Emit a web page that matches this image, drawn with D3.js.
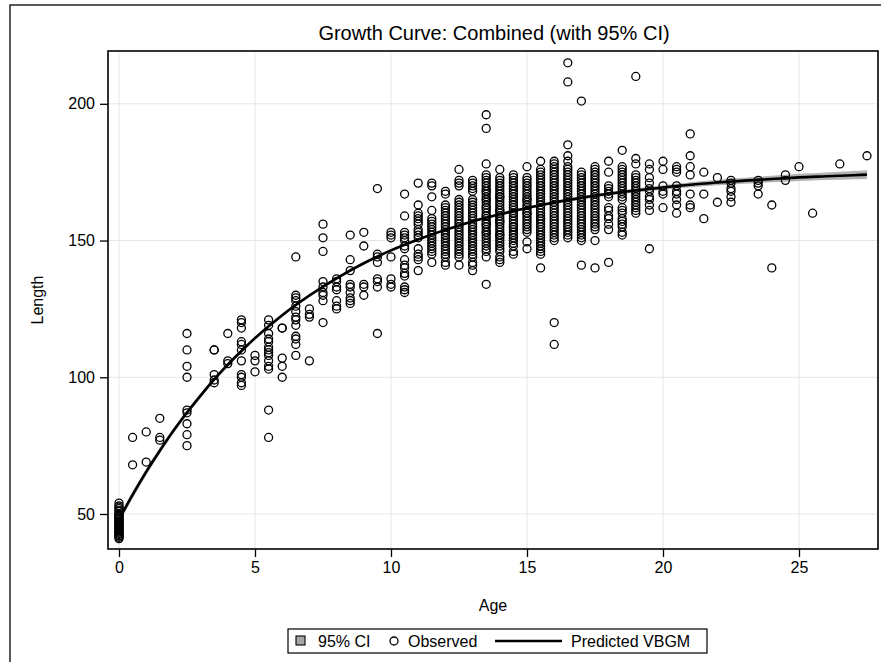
<!DOCTYPE html>
<html>
<head>
<meta charset="utf-8">
<script src="https://cdn.jsdelivr.net/npm/d3@7"></script>
<style>
  html, body { margin: 0; padding: 0; background: #fff; }
  svg { display: block; }
  text { font-family: "Liberation Sans", Arial, sans-serif; fill: #000; }
</style>
</head>
<body>
<svg id="chart" width="881" height="662"></svg>
<script>
// ---------------- DATA ----------------
const titleText = "Growth Curve: Combined (with 95% CI)";
const xLabel = "Age";
const yLabel = "Length";
const xTicks = [0, 5, 10, 15, 20, 25];
const yTicks = [50, 100, 150, 200];
const legendLabels = ["95% CI", "Observed", "Predicted VBGM"];

// Observed lengths, grouped by age column
const obsAges = [0, 0.5, 1, 1.5, 2.5, 3.5, 4, 4.5, 5, 5.5, 6, 6.5, 7, 7.5, 8, 8.5, 9, 9.5, 10, 10.5,
  11, 11.5, 12, 12.5, 13, 13.5, 14, 14.5, 15, 15.5, 16, 16.5, 17, 17.5, 18, 18.5, 19, 19.5, 20, 20.5,
  21, 21.5, 22, 22.5, 23.5, 24, 24.5, 25, 25.5, 26.5, 27.5];
const obsLengths = [
  [41, 41.5, 42, 42, 42.5, 43, 43, 43.5, 44, 44, 44.5, 45, 45, 45.5, 46, 46, 46.5, 47, 47, 47.5, 48, 48, 48.5, 49, 49, 49.5, 50, 50, 51, 51, 52, 52.5, 53, 54],
  [68, 78],
  [69, 80],
  [77, 78, 85],
  [75, 79, 83, 87, 88, 100, 104, 110, 116],
  [98, 99, 101, 110, 110],
  [105, 106, 116],
  [97, 98, 100, 101, 106, 110, 112, 113, 118, 120, 121],
  [102, 106, 108],
  [78, 88, 103, 104, 106, 108, 109, 110, 111, 113, 114, 116, 119, 121],
  [100, 104, 107, 118, 118],
  [108, 112, 114, 115, 119, 121, 122, 124, 126, 128, 129, 130, 144],
  [106, 122, 123, 125],
  [120, 128, 130, 131, 133, 135, 146, 151, 156],
  [125, 126, 128, 132, 133, 135, 136],
  [127, 128, 129, 131, 133, 134, 139, 143, 152],
  [130, 133, 134, 148, 153],
  [116, 133, 135, 136, 142, 144, 145, 169],
  [133, 134, 136, 144, 151, 152, 153],
  [131, 132, 133, 137, 138, 140, 141, 143, 147, 148, 150, 151, 152, 153, 159, 167],
  [139, 143, 144, 145, 147, 151, 152, 153, 154, 156, 157, 158, 159, 160, 163, 171],
  [142, 145, 146, 147, 148, 149, 150, 151, 152, 153, 154, 155, 156, 157, 158, 161, 166, 170, 171],
  [141, 142, 144, 145, 146, 147, 148, 149, 150, 151, 152, 153, 154, 155, 156, 157, 158, 159, 160, 161, 162, 163, 167, 168],
  [141, 144, 145, 146, 147, 148, 149, 150, 151, 152, 153, 154, 155, 156, 157, 158, 159, 160, 161, 162, 163, 164, 165, 170, 171, 172, 176],
  [139, 141, 142, 144, 145, 146, 147, 148, 149, 150, 151, 152, 153, 154, 155, 156, 157, 158, 159, 160, 161, 162, 163, 164, 165, 168, 169, 170, 171, 172],
  [134, 144, 146, 147, 148, 149, 150, 151, 152, 153, 153, 154, 155, 156, 156, 157, 158, 159, 159, 160, 161, 162, 162, 163, 164, 165, 165, 166, 167, 168, 168, 169, 170, 171, 172, 173, 174, 178, 191, 196],
  [142, 143, 144, 146, 147, 148, 149, 150, 151, 152, 152, 153, 154, 155, 156, 157, 157, 158, 159, 160, 161, 161, 162, 163, 164, 165, 166, 166, 167, 168, 169, 170, 171, 172, 173, 176],
  [145, 146, 148, 149, 150, 151, 152, 153, 154, 155, 155, 156, 157, 158, 159, 160, 160, 161, 162, 163, 164, 165, 166, 167, 168, 169, 170, 171, 172, 173, 174],
  [147, 149.5, 153, 154, 155, 156, 157, 158, 159, 160, 160, 161, 162, 163, 164, 165, 165, 166, 167, 168, 169, 170, 171, 172, 173, 177],
  [140, 145, 146, 147, 148, 149, 150, 151, 152, 153, 154, 155, 156, 157, 158, 158, 159, 160, 161, 162, 163, 164, 165, 166, 167, 168, 169, 170, 171, 172, 173, 174, 175, 176, 179],
  [112, 120, 150, 151, 152, 153, 154, 155, 156, 157, 158, 159, 160, 161, 162, 163, 164, 165, 166, 167, 168, 169, 170, 171, 172, 173, 174, 175, 176, 177, 178, 179],
  [151, 152, 153, 154, 155, 156, 157, 158, 159, 160, 161, 162, 163, 164, 165, 166, 167, 168, 169, 170, 171, 172, 173, 174, 175, 176, 177, 179, 181, 185, 208, 215],
  [141, 150, 151, 152, 153, 154, 155, 156, 157, 158, 159, 160, 161, 162, 163, 164, 165, 166, 167, 168, 169, 170, 171, 172, 173, 174, 175, 201],
  [140, 150, 154, 155, 156, 157, 158, 159, 160, 161, 162, 163, 164, 165, 166, 167, 168, 169, 170, 171, 172, 173, 174, 175, 176, 177],
  [142, 154, 156, 158, 159, 161, 162, 166, 167, 168, 169, 170, 175, 179],
  [152, 153, 155, 156, 157, 158, 160, 161, 162, 165, 166, 167, 168, 169, 170, 171, 172, 173, 174, 175, 176, 177, 183],
  [160, 161, 162, 163, 164, 165, 166, 167, 168, 169, 170, 171, 172, 173, 174, 178, 180, 210],
  [147, 161, 163, 165, 166, 168, 169, 171, 173, 176, 178],
  [162, 167, 168, 170, 176, 179],
  [160, 163, 165, 167, 168, 170, 175, 176, 177],
  [162, 163, 167, 174, 177, 181, 189],
  [158, 167, 175],
  [164, 173],
  [164, 166, 168, 169, 171, 172],
  [167, 170, 171, 172],
  [140, 163],
  [172, 174],
  [177],
  [160],
  [178],
  [181]
];

// Predicted VBGM curve and 95% CI
const predAges = [0, 0.5, 1, 1.5, 2, 2.5, 3, 3.5, 4, 4.5, 5, 6, 7, 8, 9, 10, 11, 12, 13, 14, 15, 16, 17, 18, 19, 20, 21, 22, 23, 24, 25, 26, 27, 27.5];
const predLength = [48.0, 57.0, 65.4, 73.1, 80.4, 87.1, 93.3, 99.2, 104.6, 109.6, 114.3, 122.7, 129.9, 136.2, 141.7, 146.4, 150.4, 153.9, 157.0, 159.6, 161.9, 163.9, 165.6, 167.1, 168.3, 169.4, 170.4, 171.2, 171.9, 172.5, 173.1, 173.5, 173.9, 174.1];
const ciLower = [46.6, 55.7, 64.2, 72.0, 79.4, 86.15, 92.4, 98.35, 103.8, 108.85, 113.6, 122.05, 129.3, 135.65, 141.2, 145.9, 149.95, 153.45, 156.55, 159.15, 161.45, 163.4, 165.05, 166.5, 167.6, 168.6, 169.5, 170.2, 170.8, 171.3, 171.8, 172.1, 172.4, 172.5];
const ciUpper = [49.4, 58.3, 66.6, 74.2, 81.4, 88.05, 94.2, 100.05, 105.4, 110.35, 115.0, 123.35, 130.5, 136.75, 142.2, 146.9, 150.85, 154.35, 157.45, 160.05, 162.35, 164.4, 166.15, 167.7, 169.0, 170.2, 171.3, 172.2, 173.0, 173.7, 174.4, 174.9, 175.4, 175.7];

// ---------------- LAYOUT ----------------
const svg = d3.select("#chart");
const plot = { left: 108, right: 878, top: 51, bottom: 549 };

const x = d3.scaleLinear().domain([0, 25]).range([119, 799]);
const y = d3.scaleLinear().domain([50, 200]).range([514, 103.8]);

// outer frame (extends past the picture edge)
svg.append("rect").attr("x", 10).attr("y", 5).attr("width", 900).attr("height", 700)
  .attr("fill", "none").attr("stroke", "#000").attr("stroke-width", 1.3);

// title
svg.append("text").attr("x", 494).attr("y", 40).attr("text-anchor", "middle")
  .attr("font-size", 20).text(titleText);

// clip
svg.append("defs").append("clipPath").attr("id", "clip").append("rect")
  .attr("x", plot.left).attr("y", plot.top).attr("width", plot.right - plot.left).attr("height", plot.bottom - plot.top);

// grid
const grid = svg.append("g");
grid.selectAll(".gx").data(xTicks).join("line")
  .attr("x1", d => x(d)).attr("x2", d => x(d)).attr("y1", plot.top).attr("y2", plot.bottom)
  .attr("stroke", "#e6e6e6").attr("stroke-width", 1);
grid.selectAll(".gy").data(yTicks).join("line")
  .attr("y1", d => y(d)).attr("y2", d => y(d)).attr("x1", plot.left).attr("x2", plot.right)
  .attr("stroke", "#e6e6e6").attr("stroke-width", 1);

const g = svg.append("g").attr("clip-path", "url(#clip)");

// CI band
const predData = predAges.map((a, i) => ({ a, p: predLength[i], lo: ciLower[i], hi: ciUpper[i] }));
g.append("path").datum(predData)
  .attr("d", d3.area().x(d => x(d.a)).y0(d => y(d.lo)).y1(d => y(d.hi)).curve(d3.curveMonotoneX))
  .attr("fill", "#a6a6a6").attr("opacity", 0.85);

// observed points
const obs = [];
obsAges.forEach((a, i) => obsLengths[i].forEach(v => obs.push({ a, v })));
g.selectAll("circle.obs").data(obs).join("circle")
  .attr("class", "obs")
  .attr("cx", d => x(d.a)).attr("cy", d => y(d.v)).attr("r", 4)
  .attr("fill", "none").attr("stroke", "#000").attr("stroke-width", 1.3);

// predicted line
g.append("path").datum(predData)
  .attr("d", d3.line().x(d => x(d.a)).y(d => y(d.p)).curve(d3.curveMonotoneX))
  .attr("fill", "none").attr("stroke", "#000").attr("stroke-width", 2.6);

// plot frame
svg.append("rect").attr("x", plot.left).attr("y", plot.top)
  .attr("width", plot.right - plot.left).attr("height", plot.bottom - plot.top)
  .attr("fill", "none").attr("stroke", "#000").attr("stroke-width", 1.6);

// axes
const xAxis = svg.append("g").attr("transform", `translate(0,${plot.bottom})`)
  .call(d3.axisBottom(x).tickValues(xTicks).tickSize(8).tickPadding(5).tickFormat(d3.format("d")));
const yAxis = svg.append("g").attr("transform", `translate(${plot.left},0)`)
  .call(d3.axisLeft(y).tickValues(yTicks).tickSize(8).tickPadding(5).tickFormat(d3.format("d")));
[xAxis, yAxis].forEach(ax => {
  ax.select(".domain").remove();
  ax.selectAll(".tick line").attr("stroke", "#000").attr("stroke-width", 1.3);
  ax.selectAll(".tick text").attr("font-size", 16).attr("font-family", "Liberation Sans, Arial, sans-serif").attr("fill", "#000");
});

// axis labels
svg.append("text").attr("x", (plot.left + plot.right) / 2).attr("y", 611)
  .attr("text-anchor", "middle").attr("font-size", 16).text(xLabel);
svg.append("text").attr("transform", `translate(43,${(plot.top + plot.bottom) / 2}) rotate(-90)`)
  .attr("text-anchor", "middle").attr("font-size", 16).text(yLabel);

// legend
const lg = svg.append("g");
lg.append("rect").attr("x", 288).attr("y", 629).attr("width", 419).attr("height", 24)
  .attr("fill", "#fff").attr("stroke", "#000").attr("stroke-width", 1.2);
lg.append("rect").attr("x", 296).attr("y", 636).attr("width", 9).attr("height", 9)
  .attr("fill", "#a6a6a6").attr("stroke", "#000").attr("stroke-width", 1.1);
lg.append("text").attr("x", 318).attr("y", 647).attr("font-size", 16).text(legendLabels[0]);
lg.append("circle").attr("cx", 394).attr("cy", 641).attr("r", 4)
  .attr("fill", "none").attr("stroke", "#000").attr("stroke-width", 1.3);
lg.append("text").attr("x", 408).attr("y", 647).attr("font-size", 16).text(legendLabels[1]);
lg.append("line").attr("x1", 495).attr("x2", 562).attr("y1", 641).attr("y2", 641)
  .attr("stroke", "#000").attr("stroke-width", 2.6);
lg.append("text").attr("x", 571).attr("y", 647).attr("font-size", 16).text(legendLabels[2]);
</script>
</body>
</html>
